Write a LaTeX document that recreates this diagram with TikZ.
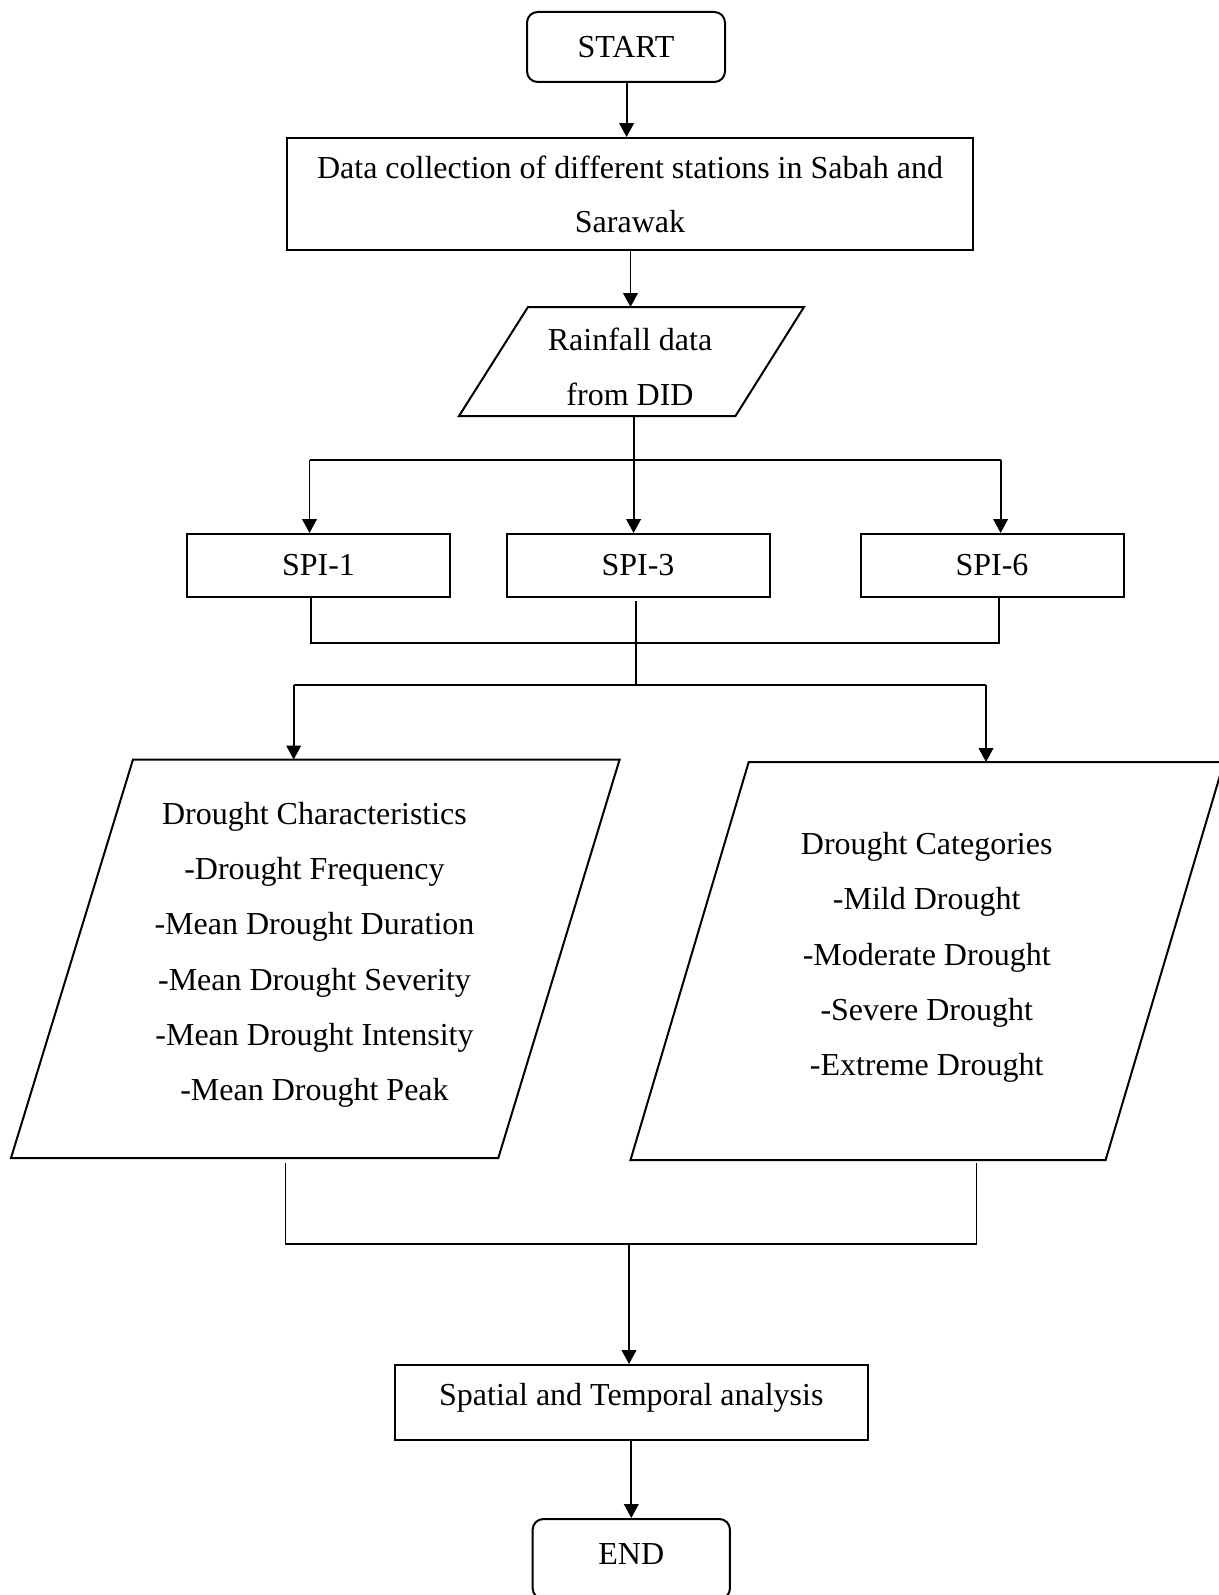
\documentclass[tikz,border=0pt]{standalone}
\usepackage{fontspec}
\setmainfont{Liberation Serif}
\usetikzlibrary{arrows.meta}
\begin{document}
\begin{tikzpicture}[x=0.75pt,y=-0.75pt,
  box/.style={draw, line width=1.5pt, inner sep=0pt, font=\fontsize{24}{40.5}\selectfont, align=center},
  term/.style={box, rounded corners=8pt},
  txt/.style={inner sep=0pt, font=\fontsize{24}{41.5}\selectfont, align=center},
  arr/.style={line width=1.4pt, -{Triangle[length=10.5pt,width=11pt]}},
  link/.style={line width=1.4pt},
  conn/.style={line width=1pt},
  para/.style={line width=1.5pt, line join=miter}]
\useasboundingbox (0,0) rectangle (1219,1595);
\clip (0,0) rectangle (1219,1595);

% terminals and boxes
\node[term, minimum width=148.5pt, minimum height=52.5pt] (start) at (626,47) {START};
\node[box, minimum width=514.5pt, minimum height=84pt] (data) at (630,194) {Data collection of different stations in Sabah and\\Sarawak};

% rainfall parallelogram
\draw[para] (528,307) -- (804,307) -- (735.5,416) -- (459,416) -- cycle;
\node[txt, font=\fontsize{24}{41.25}\selectfont] (rain) at (630,366.5) {Rainfall data\\from DID};
\coordinate (raintop) at (630.5,307);
\coordinate (rainbot) at (633.6,416);

% SPI boxes
\node[box, minimum width=197.25pt, minimum height=47.25pt] (spi1) at (318.5,565.5) {SPI-1};
\node[box, minimum width=197.25pt, minimum height=47.25pt] (spi3) at (638,565.5) {SPI-3};
\node[box, minimum width=197.25pt, minimum height=47.25pt] (spi6) at (992,565.5) {SPI-6};

% arrows top
\draw[arr] (start.south -| 626.6,0) -- (626.6,0 |- data.north);
\draw[arr] (630.5,0 |- data.south) -- (raintop);
\coordinate (b1) at (309.5,460);
\coordinate (b6) at (1000.6,460);
\draw[arr] (rainbot) -- (rainbot |- spi3.north);
\draw[link] (b1) -- (b6);
\draw[arr] (b1) -- (b1 |- spi1.north);
\draw[arr] (b6) -- (b6 |- spi6.north);

% joining SPI outputs
\coordinate (j1) at (311,643);
\coordinate (j6) at (999,643);
\draw[conn] (j1 |- spi1.south) -- (j1) -- (j6) -- (j6 |- spi6.south);
\coordinate (s3b) at (636,600.7);
\coordinate (j3) at (636,685);
\draw[conn] (s3b) -- (j3);
\coordinate (k1) at (293.7,685);
\coordinate (k6) at (986,685);
\draw[link] (k1) -- (k6);

% drought parallelograms
\draw[para] (133,759.5) -- (619.6,759.5) -- (498.3,1158) -- (11,1158) -- cycle;
\draw[para] (748.7,762) -- (1224,762) -- (1105.6,1160) -- (630.5,1160) -- cycle;
\coordinate (chtop) at (293.7,759.5);
\coordinate (cattop) at (986,762);
\draw[arr] (k1) -- (chtop);
\draw[arr] (k6) -- (cattop);

\node[txt] (char) at (314.5,955) {Drought Characteristics\\-Drought Frequency\\-Mean Drought Duration\\-Mean Drought Severity\\-Mean Drought Intensity\\-Mean Drought Peak};
\node[txt, font=\fontsize{24}{41.4}\selectfont] (cat) at (926.7,957.5) {Drought Categories\\-Mild Drought\\-Moderate Drought\\-Severe Drought\\-Extreme Drought};

% joining drought outputs
\coordinate (m1) at (285.3,1163);
\coordinate (m1b) at (285.3,1244);
\coordinate (m6) at (976.5,1163);
\coordinate (m6b) at (976.5,1244);
\draw[conn] (m1) -- (m1b) -- (m6b) -- (m6);
\coordinate (m0) at (629,1244);

\node[box, minimum width=354.5pt, minimum height=56.25pt, text depth=12pt] (spatial) at (631.3,1402.5) {Spatial and Temporal analysis};
\node[term, minimum width=148pt, minimum height=60pt, anchor=north, text depth=7.5pt] (end) at (631.3,1518) {END};

\draw[arr] (m0) -- (m0 |- spatial.north);
\draw[arr] (spatial.south) -- (end.north);
\end{tikzpicture}
\end{document}
